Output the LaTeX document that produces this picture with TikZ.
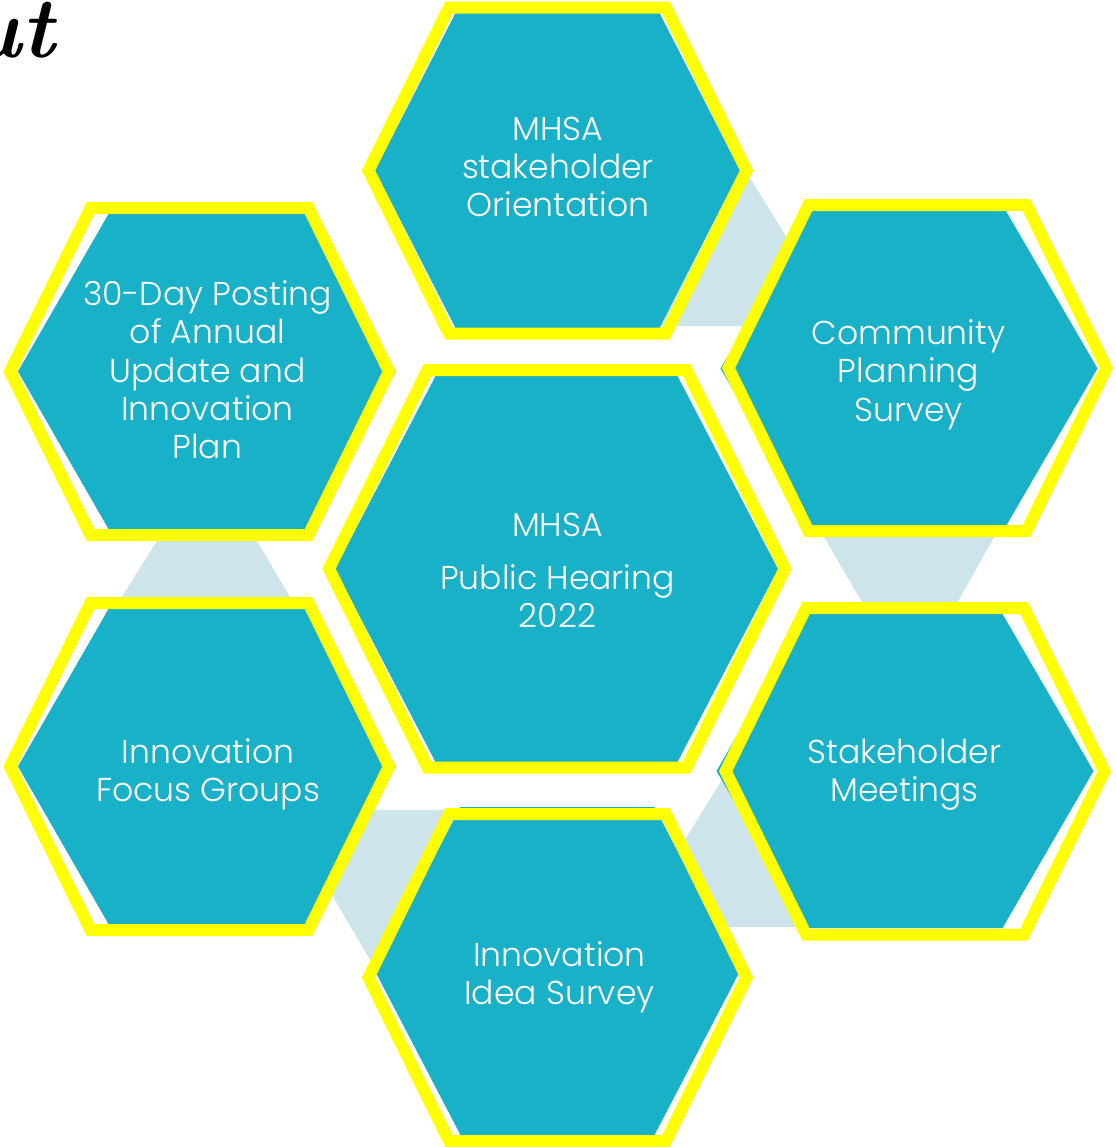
\documentclass[tikz,border=0pt]{standalone}
\usepackage{fontspec}
\newfontfamily\hexfont{Poppins Light}
\usepackage{xcolor}
\definecolor{hexteal}{HTML}{18B1C7}
\definecolor{rimyellow}{HTML}{FFFF00}
\definecolor{linkblue}{HTML}{CCE4EA}

\begin{document}
\begin{tikzpicture}[x=0.01cm, y=-0.01cm,
		linkhex/.style={fill=linkblue},
		tealhex/.style={fill=hexteal},
		rimhex/.style={draw=rimyellow, line width=0.12cm, line join=miter},
		hextext/.style={anchor=north, inner sep=0pt, align=center, text=white, font=\hexfont\fontsize{9.4}{10.9}\selectfont}]
			\useasboundingbox[fill=white] (0,0) rectangle (1116,1147);
			
			%light blue links behind the hexagons
			\fill[linkhex] (744,168) -- (800.6,260) -- (760,326) -- (660,326) -- cycle;
			\fill[linkhex] (820,530) -- (998,530) -- (950.4,615) -- (869.6,615) -- cycle;
			\fill[linkhex] (170,520) -- (244.6,520) -- (303.5,620) -- (107.6,620) -- cycle;
			\fill[linkhex] (360,810) -- (470,810) -- (420,960) -- (376,970) -- (322,878) -- cycle;
			\fill[linkhex] (728,770) -- (810,927) -- (650,927) -- (661,879) -- cycle;
			
			%hexagons: yellow rim cx/cy/w/t/h, teal face tx/ty/tw/tt/th
			\foreach \cx/\cy/\w/\t/\h/\tx/\ty/\tw/\tt/\th in {
				557.5/170.5/189/108.5/163/557.5/170.5/182.5/102/157.5,
				199.5/371.5/189.5/109/163.5/207/371.5/189/98.5/157.5,
				917.5/368/189/109/163/909/368.5/188.5/97/157.5,
				557/568.75/228/129.5/198.75/556.5/569/221.5/121/193,
				199.5/766.5/189.5/109/163.5/207/766.5/189/98.5/157.5,
				915/771.25/189.3/109/163.25/905/771/188.5/97.5/157,
				557.5/977.5/189/108.5/163.5/557.5/971/182.5/97/164}
			{
				\fill[tealhex] ({\tx-\tw},\ty) -- ({\tx-\tt},{\ty-\th}) -- ({\tx+\tt},{\ty-\th}) -- ({\tx+\tw},\ty) -- ({\tx+\tt},{\ty+\th}) -- ({\tx-\tt},{\ty+\th}) -- cycle;
				\draw[rimhex] ({\cx-\w},\cy) -- ({\cx-\t},{\cy-\h}) -- ({\cx+\t},{\cy-\h}) -- ({\cx+\w},\cy) -- ({\cx+\t},{\cy+\h}) -- ({\cx-\t},{\cy+\h}) -- cycle;
			}
			
			% texts
			\node[hextext] (orient) at (558,116) {MHSA\\stakeholder\\Orientation};
			\node[hextext] (posting) at (207.5,280) {30-Day Posting\\of Annual\\Update and\\Innovation\\Plan};
			\node[hextext] (survey) at (908.5,319) {Community\\Planning\\Survey};
			\node[hextext] (hearing) at (557.5,512) {MHSA\\[4.2pt]Public Hearing\\2022};
			\node[hextext] (focus) at (208,738) {Innovation\\Focus Groups};
			\node[hextext] (meetings) at (904.5,738) {Stakeholder\\Meetings};
			\node[hextext] (idea) at (559.5,941) {Innovation\\Idea Survey};
			
			% cut title
			\node[anchor=base east, inner sep=0pt, font=\fontsize{24.5}{29}\selectfont\bfseries\itshape] (heading) at (55,57) {ut};
			
		\end{tikzpicture}
\end{document}
